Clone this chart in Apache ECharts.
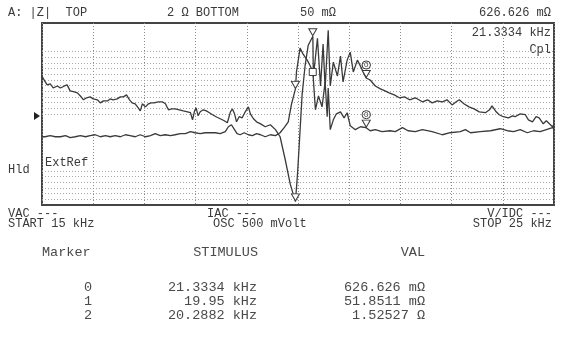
<!DOCTYPE html>
<html>
<head>
<meta charset="utf-8">
<script src="https://cdn.jsdelivr.net/npm/echarts@6/dist/echarts.min.js"></script>
<style>
  html, body { margin: 0; padding: 0; background: #fff; }
  #chart { width: 564px; height: 337px; }
</style>
</head>
<body>
<div id="chart"></div>
<script>
// sweep limits (kHz)
const startKHz = 15;
const stopKHz = 25;

// trace A |Z| : [kHz, screen divisions above bottom]
const traceA = [
  [15.00, 7.09], [15.04, 6.87], [15.10, 6.60], [15.16, 6.65], [15.22, 6.43], [15.30, 6.54],
  [15.36, 6.43], [15.44, 6.54], [15.49, 6.60], [15.55, 6.27], [15.63, 6.21], [15.69, 6.16],
  [15.75, 5.99], [15.81, 5.78], [15.87, 5.89], [15.94, 5.94], [16.00, 5.83], [16.08, 5.78],
  [16.14, 5.61], [16.20, 5.72], [16.28, 5.72], [16.33, 5.83], [16.39, 5.78], [16.47, 5.83],
  [16.53, 5.94], [16.59, 5.94], [16.65, 6.05], [16.71, 5.78], [16.76, 5.61], [16.82, 5.56],
  [16.88, 5.34], [16.92, 5.17], [16.96, 5.56], [17.02, 5.39], [17.08, 5.56], [17.13, 5.61],
  [17.19, 5.61], [17.27, 5.67], [17.35, 5.67], [17.41, 5.56], [17.47, 5.23], [17.53, 5.28],
  [17.60, 5.28], [17.68, 5.23], [17.76, 5.17], [17.84, 5.12], [17.90, 5.07], [17.94, 4.68],
  [17.98, 5.17], [18.01, 5.34], [18.05, 4.90], [18.09, 5.12], [18.15, 5.23], [18.21, 5.17],
  [18.27, 5.07], [18.33, 4.96], [18.40, 4.85], [18.48, 4.74], [18.56, 4.63], [18.62, 4.52],
  [18.68, 5.12], [18.72, 5.28], [18.76, 5.01], [18.80, 4.57], [18.85, 4.85], [18.91, 4.79],
  [18.97, 5.12], [19.03, 5.39], [19.07, 5.01], [19.13, 4.74], [19.19, 4.57], [19.27, 4.46],
  [19.36, 4.30], [19.46, 4.41], [19.56, 4.14], [19.65, 3.75], [19.75, 2.50], [19.85, 1.13],
  [19.95, 0.20], [19.99, 1.68], [20.03, 3.59], [20.08, 6.05], [20.14, 7.69], [20.20, 8.78],
  [20.29, 9.27], [20.30, 7.03], [20.38, 9.16], [20.44, 6.54], [20.49, 8.84], [20.53, 6.43],
  [20.59, 9.60], [20.63, 6.54], [20.69, 7.85], [20.77, 7.09], [20.83, 8.18], [20.88, 6.76],
  [20.96, 7.96], [21.02, 8.40], [21.08, 7.31], [21.16, 7.96], [21.22, 7.63], [21.33, 6.98],
  [21.41, 6.87], [21.51, 6.54], [21.61, 6.38], [21.70, 6.27], [21.78, 6.16], [21.88, 6.05],
  [21.98, 5.89], [22.08, 5.94], [22.18, 5.78], [22.29, 5.89], [22.43, 5.67], [22.53, 5.78],
  [22.62, 5.61], [22.72, 5.72], [22.82, 5.67], [22.91, 5.78], [23.01, 5.50], [23.09, 5.67],
  [23.15, 5.78], [23.24, 5.56], [23.34, 5.39], [23.44, 5.28], [23.54, 5.12], [23.66, 5.07],
  [23.74, 5.23], [23.79, 5.45], [23.87, 5.12], [23.93, 4.96], [24.01, 4.85], [24.11, 4.79],
  [24.19, 4.90], [24.24, 4.85], [24.34, 5.01], [24.44, 4.96], [24.50, 4.68], [24.58, 4.57],
  [24.65, 4.85], [24.71, 4.79], [24.79, 4.46], [24.85, 4.63], [24.91, 4.46], [24.97, 4.30],
  [25.00, 4.41]
];

// trace B Cp : [kHz, screen divisions above bottom]
const traceB = [
  [15.00, 3.75], [15.06, 3.75], [15.16, 3.81], [15.26, 3.75], [15.36, 3.75], [15.46, 3.81],
  [15.55, 3.70], [15.65, 3.75], [15.75, 3.81], [15.85, 3.75], [15.94, 3.81], [16.04, 3.86],
  [16.14, 3.75], [16.24, 3.81], [16.33, 3.75], [16.43, 3.81], [16.53, 3.75], [16.63, 3.86],
  [16.72, 3.81], [16.82, 3.75], [16.92, 3.86], [17.02, 3.75], [17.12, 3.81], [17.21, 3.92],
  [17.31, 3.81], [17.41, 3.86], [17.51, 3.81], [17.60, 3.86], [17.70, 3.92], [17.80, 3.92],
  [17.90, 4.03], [17.99, 3.97], [18.09, 3.92], [18.19, 3.97], [18.29, 3.97], [18.39, 3.97],
  [18.48, 3.92], [18.58, 4.03], [18.64, 4.30], [18.70, 4.41], [18.76, 4.14], [18.81, 3.92],
  [18.87, 3.86], [18.95, 3.97], [19.03, 3.86], [19.11, 3.81], [19.19, 3.92], [19.27, 3.86],
  [19.36, 3.75], [19.46, 3.86], [19.56, 3.81], [19.65, 3.97], [19.73, 4.25], [19.81, 4.57],
  [19.87, 5.50], [19.95, 6.38], [19.97, 7.31], [20.01, 8.04], [20.04, 8.62], [20.10, 8.29],
  [20.18, 7.96], [20.24, 7.64], [20.29, 7.31], [20.34, 5.23], [20.40, 5.99], [20.47, 5.39],
  [20.53, 6.76], [20.57, 4.85], [20.59, 6.43], [20.63, 4.14], [20.69, 4.68], [20.75, 5.01],
  [20.83, 5.12], [20.90, 4.79], [20.96, 5.07], [21.02, 4.36], [21.12, 4.14], [21.22, 4.30],
  [21.33, 4.25], [21.41, 4.08], [21.51, 4.14], [21.64, 4.03], [21.80, 4.08], [21.90, 4.03],
  [22.04, 4.25], [22.15, 4.08], [22.29, 4.03], [22.43, 4.14], [22.62, 4.03], [22.82, 3.86],
  [22.97, 3.97], [23.17, 4.03], [23.27, 4.14], [23.37, 3.97], [23.56, 4.03], [23.76, 4.08],
  [23.95, 4.19], [24.09, 4.08], [24.21, 4.03], [24.34, 4.14], [24.48, 3.97], [24.60, 4.08],
  [24.73, 4.03], [24.85, 4.14], [24.97, 4.25], [25.00, 4.19]
];

// marker table
const markerIds = ['0', '1', '2'];
const markerKHz = [21.3334, 19.95, 20.2882];
const markerStimText = ['21.3334 kHz', '19.95 kHz', '20.2882 kHz'];
const markerValText = ['626.626 mΩ', '51.8511 mΩ', '1.52527 Ω'];

const ink = '#3a3a3a';
const tblInk = '#4a4a4a';
const scrFont = '"Liberation Mono", monospace';
const tblFont = '"Liberation Mono", monospace';

// trace value nearest to a marker frequency
function valueAt(trace, f) {
  let best = trace[0];
  trace.forEach(p => { if (Math.abs(p[0] - f) < Math.abs(best[0] - f)) best = p; });
  return best[1];
}

const tri = 'path://M0,0L10,0L5,9Z';
function markers(trace, lastSymbol) {
  return markerKHz.map((f, i) => ({
    coord: [f, valueAt(trace, f)],
    symbol: (i === 2 && lastSymbol) ? lastSymbol : tri,
    symbolSize: (i === 2 && lastSymbol) ? 7 : [8, 7],
    symbolOffset: (i === 2 && lastSymbol) ? [0, 0] : [0, -4],
    label: {
      show: i === 0,
      formatter: markerIds[i],
      position: 'top',
      distance: 1,
      fontSize: 8,
      color: ink,
      borderColor: ink,
      borderWidth: 1,
      borderRadius: 5,
      padding: [0, 2]
    }
  }));
}

// faint dotted rows of the graticule (only the bands that show on screen)
const rowColors = [];
for (let k = 0; k <= 32; k++) {
  rowColors.push((k >= 1 && k <= 6) || (k >= 16 && k <= 27) ? '#a8a8a8' : 'rgba(0,0,0,0)');
}

function txt(x, y, s, align, font, size, color) {
  return {
    type: 'text', x: x, y: y,
    style: { text: s, fill: color || ink, font: (size || 12) + 'px ' + (font || scrFont),
             textAlign: align || 'left', textVerticalAlign: 'middle' }
  };
}

const graphics = [
  txt(8, 13, 'A: |Z|  TOP'),
  txt(167, 13, '2 Ω BOTTOM'),
  txt(300, 13, '50 mΩ'),
  txt(551, 13, '626.626 mΩ', 'right'),
  txt(551, 33, '21.3334 kHz', 'right'),
  txt(551, 50, 'Cpl', 'right'),
  txt(45, 163, 'ExtRef'),
  txt(8, 170, 'Hld'),
  txt(8, 213.5, 'VAC ---'),
  txt(8, 223.5, 'START ' + startKHz + ' kHz'),
  txt(207, 213.5, 'IAC ---'),
  txt(213, 223.5, 'OSC 500 mVolt'),
  txt(552, 213.5, 'V/IDC ---', 'right'),
  txt(552, 223.5, 'STOP ' + stopKHz + ' kHz', 'right'),
  txt(42, 252, 'Marker', 'left', tblFont, 13.5, tblInk),
  txt(258, 252, 'STIMULUS', 'right', tblFont, 13.5, tblInk),
  txt(425, 252, 'VAL', 'right', tblFont, 13.5, tblInk),
  {
    type: 'polygon',
    shape: { points: [[34, 112], [40, 116], [34, 120]] },
    style: { fill: '#222' }
  }
];
markerIds.forEach((id, i) => {
  const y = 287 + i * 14.2;
  graphics.push(txt(92, y, id, 'right', tblFont, 13.5, tblInk));
  graphics.push(txt(257, y, markerStimText[i], 'right', tblFont, 13.5, tblInk));
  graphics.push(txt(425, y, markerValText[i], 'right', tblFont, 13.5, tblInk));
});

const chart = echarts.init(document.getElementById('chart'), null, { renderer: 'canvas' });
chart.setOption({
  animation: false,
  backgroundColor: '#fff',
  grid: {
    left: 42, top: 23, right: 10, bottom: 132,
    show: true, borderColor: '#444', borderWidth: 2, backgroundColor: 'transparent'
  },
  xAxis: {
    type: 'value', min: startKHz, max: stopKHz, interval: 1,
    axisLine: { show: false }, axisTick: { show: false }, axisLabel: { show: false },
    splitLine: { show: true, lineStyle: { color: '#8c8c8c', width: 1, type: [1, 2] } }
  },
  yAxis: [
    {
      type: 'value', min: 0, max: 10,
      axisLine: { show: false }, axisTick: { show: false }, axisLabel: { show: false },
      splitLine: { show: false }
    },
    {
      type: 'value', min: 0, max: 32, interval: 1, position: 'right',
      axisLine: { show: false }, axisTick: { show: false }, axisLabel: { show: false },
      splitLine: { show: true, lineStyle: { color: rowColors, width: 1, type: [1, 2] } }
    }
  ],
  series: [
    {
      name: '|Z|', type: 'line', data: traceA, showSymbol: false, silent: true,
      lineStyle: { color: ink, width: 1.3 },
      markPoint: {
        silent: true,
        itemStyle: { color: '#fff', borderColor: ink, borderWidth: 1 },
        data: markers(traceA)
      }
    },
    {
      name: 'Cp', type: 'line', data: traceB, showSymbol: false, silent: true,
      lineStyle: { color: ink, width: 1.3 },
      markPoint: {
        silent: true,
        itemStyle: { color: '#fff', borderColor: ink, borderWidth: 1 },
        data: markers(traceB, 'rect')
      }
    }
  ],
  graphic: graphics
});
</script>
</body>
</html>
